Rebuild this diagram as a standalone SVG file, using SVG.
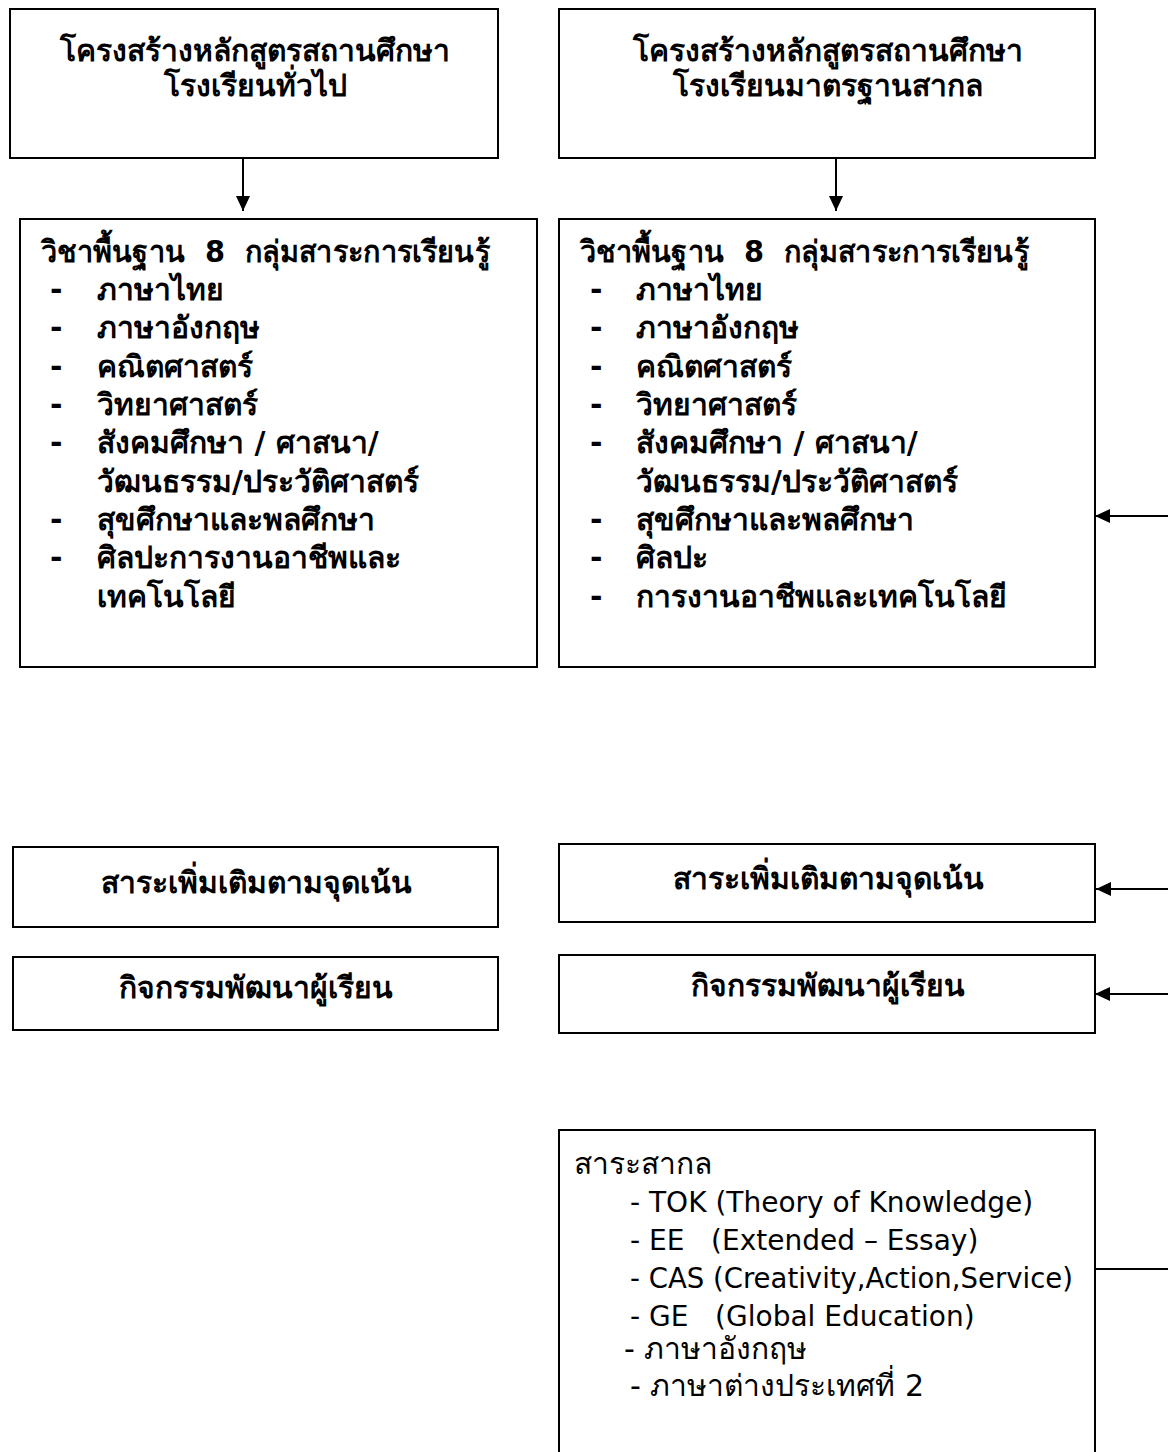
<svg xmlns="http://www.w3.org/2000/svg" width="1168" height="1452" viewBox="0 0 1168 1452">
<style>
.box{fill:#fff;stroke:#000;stroke-width:2}
.t{font-family:Tahoma,"DejaVu Sans","Noto Sans",sans-serif;font-size:30px;fill:#000}
.e{font-size:28px}
.b{font-weight:bold}
.c{text-anchor:middle}
.con{stroke:#000;stroke-width:2;fill:none}
</style>
<defs>
<marker id="ah" markerUnits="userSpaceOnUse" markerWidth="15" markerHeight="14" refX="15" refY="7" orient="auto">
<path d="M0,0 L15,7 L0,14 z" fill="#000"/>
</marker>
</defs>
<rect width="1168" height="1452" fill="#fff"/>
<g id="n1">
<rect class="box" x="10" y="9" width="488" height="149"/>
<text class="t b c" x="255" y="61">โครงสร้างหลักสูตรสถานศึกษา</text>
<text class="t b c" x="255" y="96">โรงเรียนทั่วไป</text>
</g>
<g id="n2">
<rect class="box" x="559" y="9" width="536" height="149"/>
<text class="t b c" x="828" y="61">โครงสร้างหลักสูตรสถานศึกษา</text>
<text class="t b c" x="828" y="96">โรงเรียนมาตรฐานสากล</text>
</g>
<g id="n3">
<rect class="box" x="20" y="219" width="517" height="448"/>
<text class="t b" x="41" y="262" xml:space="preserve" textLength="449" lengthAdjust="spacingAndGlyphs">วิชาพื้นฐาน  8  กลุ่มสาระการเรียนรู้</text>
<text class="t b" x="50" y="300">-</text><text class="t b" x="97" y="300">ภาษาไทย</text>
<text class="t b" x="50" y="338">-</text><text class="t b" x="97" y="338">ภาษาอังกฤษ</text>
<text class="t b" x="50" y="377">-</text><text class="t b" x="97" y="377">คณิตศาสตร์</text>
<text class="t b" x="50" y="415">-</text><text class="t b" x="97" y="415">วิทยาศาสตร์</text>
<text class="t b" x="50" y="453">-</text><text class="t b" x="97" y="453">สังคมศึกษา / ศาสนา/</text>
<text class="t b" x="97" y="492">วัฒนธรรม/ประวัติศาสตร์</text>
<text class="t b" x="50" y="530">-</text><text class="t b" x="97" y="530">สุขศึกษาและพลศึกษา</text>
<text class="t b" x="50" y="568">-</text><text class="t b" x="97" y="568">ศิลปะการงานอาชีพและ</text>
<text class="t b" x="97" y="607">เทคโนโลยี</text>
</g>
<g id="n4">
<rect class="box" x="559" y="219" width="536" height="448"/>
<text class="t b" x="580" y="262" xml:space="preserve" textLength="449" lengthAdjust="spacingAndGlyphs">วิชาพื้นฐาน  8  กลุ่มสาระการเรียนรู้</text>
<text class="t b" x="590" y="300">-</text><text class="t b" x="636" y="300">ภาษาไทย</text>
<text class="t b" x="590" y="338">-</text><text class="t b" x="636" y="338">ภาษาอังกฤษ</text>
<text class="t b" x="590" y="377">-</text><text class="t b" x="636" y="377">คณิตศาสตร์</text>
<text class="t b" x="590" y="415">-</text><text class="t b" x="636" y="415">วิทยาศาสตร์</text>
<text class="t b" x="590" y="453">-</text><text class="t b" x="636" y="453">สังคมศึกษา / ศาสนา/</text>
<text class="t b" x="636" y="492">วัฒนธรรม/ประวัติศาสตร์</text>
<text class="t b" x="590" y="530">-</text><text class="t b" x="636" y="530">สุขศึกษาและพลศึกษา</text>
<text class="t b" x="590" y="568">-</text><text class="t b" x="636" y="568">ศิลปะ</text>
<text class="t b" x="590" y="607">-</text><text class="t b" x="636" y="607">การงานอาชีพและเทคโนโลยี</text>
</g>
<g id="n5">
<rect class="box" x="13" y="847" width="485" height="80"/>
<text class="t b c" x="256" y="893">สาระเพิ่มเติมตามจุดเน้น</text>
</g>
<g id="n6">
<rect class="box" x="559" y="844" width="536" height="78"/>
<text class="t b c" x="828" y="889">สาระเพิ่มเติมตามจุดเน้น</text>
</g>
<g id="n7">
<rect class="box" x="13" y="957" width="485" height="73"/>
<text class="t b c" x="256" y="998">กิจกรรมพัฒนาผู้เรียน</text>
</g>
<g id="n8">
<rect class="box" x="559" y="955" width="536" height="78"/>
<text class="t b c" x="828" y="996">กิจกรรมพัฒนาผู้เรียน</text>
</g>
<g id="n9">
<path class="box" d="M559,1460 V1130 H1095 V1460" fill="#fff"/>
<text class="t" x="574" y="1174">สาระสากล</text>
<text class="t e" x="630" y="1212">- TOK (Theory of Knowledge)</text>
<text class="t e" x="630" y="1250" xml:space="preserve">- EE   (Extended – Essay)</text>
<text class="t e" x="630" y="1288" textLength="443" lengthAdjust="spacingAndGlyphs">- CAS (Creativity,Action,Service)</text>
<text class="t e" x="630" y="1326" xml:space="preserve">- GE   (Global Education)</text>
<text class="t" x="624" y="1359">- ภาษาอังกฤษ</text>
<text class="t" x="630" y="1396">- ภาษาต่างประเทศที่ 2</text>
</g>
<g id="connectors">
<line class="con" x1="243" y1="158" x2="243" y2="211" marker-end="url(#ah)"/>
<line class="con" x1="836" y1="158" x2="836" y2="211" marker-end="url(#ah)"/>
<line class="con" x1="1168" y1="516" x2="1095" y2="516" stroke-width="2.5" marker-end="url(#ah)"/>
<line class="con" x1="1168" y1="889" x2="1096" y2="889" stroke-width="2.5" marker-end="url(#ah)"/>
<line class="con" x1="1168" y1="994" x2="1095" y2="994" stroke-width="2.5" marker-end="url(#ah)"/>
<line class="con" x1="1168" y1="1269" x2="1094" y2="1269" stroke-width="1.5"/>
</g>
</svg>
